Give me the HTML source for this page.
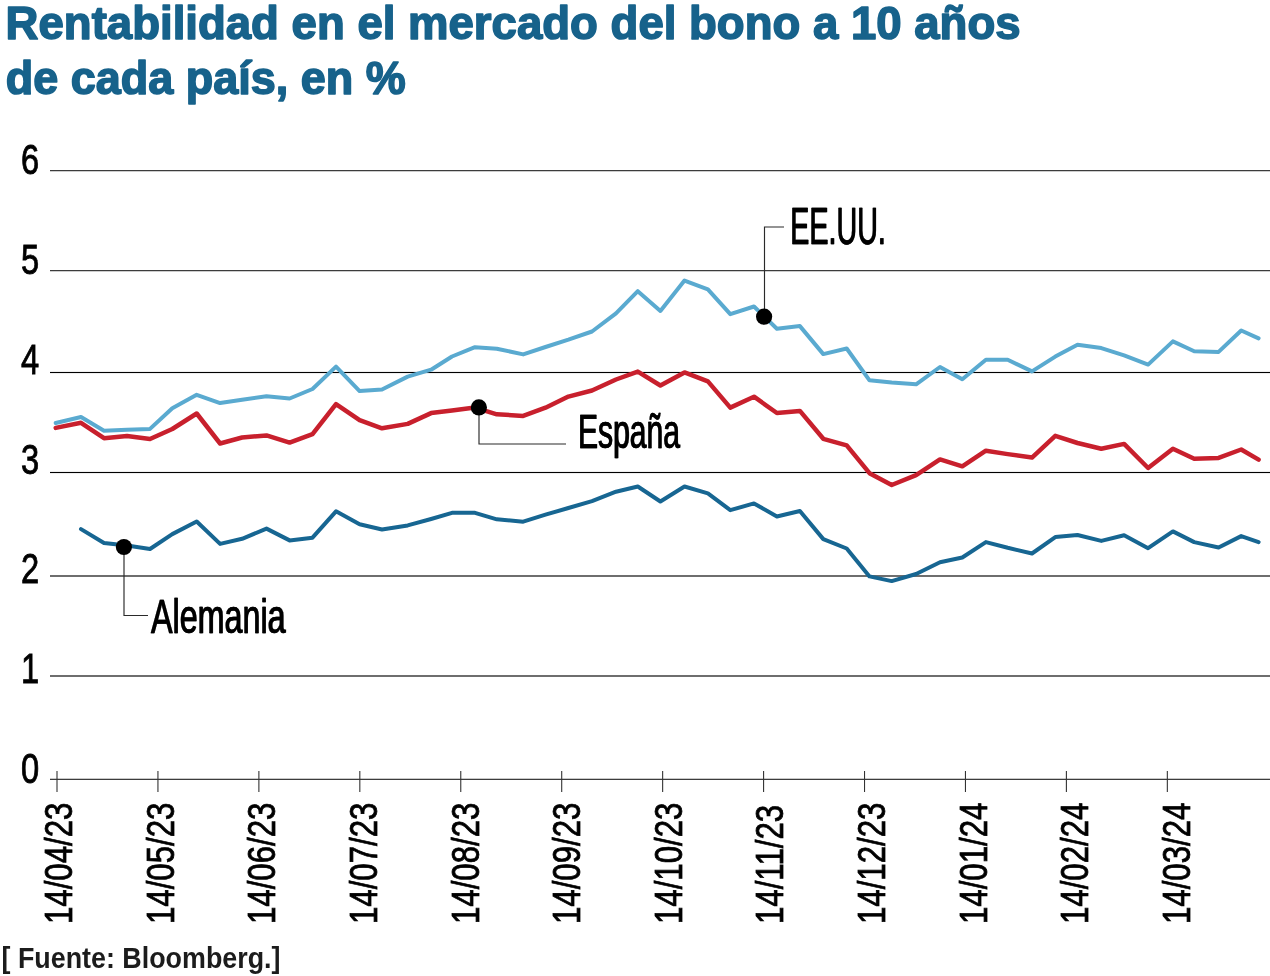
<!DOCTYPE html>
<html><head><meta charset="utf-8"><style>
html,body{margin:0;padding:0;background:#fff;width:1270px;height:976px;overflow:hidden}
svg{display:block;will-change:transform}
</style></head><body>
<svg width="1270" height="976" viewBox="0 0 1270 976">
<text x="5.6" y="39.1" font-family='"Liberation Sans", sans-serif' font-weight="bold" font-size="47" fill="#17628b" stroke="#17628b" stroke-width="1.6" stroke-linejoin="round" textLength="1015" lengthAdjust="spacingAndGlyphs">Rentabilidad en el mercado del bono a 10 años</text>
<text x="5.8" y="94.3" font-family='"Liberation Sans", sans-serif' font-weight="bold" font-size="47" fill="#17628b" stroke="#17628b" stroke-width="1.6" stroke-linejoin="round" textLength="400" lengthAdjust="spacingAndGlyphs">de cada país, en %</text>
<rect x="50" y="170" width="1220" height="1" fill="#3c3c3c" shape-rendering="crispEdges"/>
<rect x="50" y="171" width="1220" height="1" fill="#cccccc" shape-rendering="crispEdges"/>
<rect x="50" y="270" width="1220" height="1" fill="#3c3c3c" shape-rendering="crispEdges"/>
<rect x="50" y="271" width="1220" height="1" fill="#cccccc" shape-rendering="crispEdges"/>
<rect x="50" y="372" width="1220" height="1" fill="#000000" shape-rendering="crispEdges"/>
<rect x="50" y="371" width="1220" height="1" fill="#eeeeee" shape-rendering="crispEdges"/>
<rect x="50" y="373" width="1220" height="1" fill="#eeeeee" shape-rendering="crispEdges"/>
<rect x="50" y="472" width="1220" height="1" fill="#000000" shape-rendering="crispEdges"/>
<rect x="50" y="471" width="1220" height="1" fill="#eeeeee" shape-rendering="crispEdges"/>
<rect x="50" y="473" width="1220" height="1" fill="#eeeeee" shape-rendering="crispEdges"/>
<rect x="50" y="575" width="1220" height="1" fill="#6e6e6e" shape-rendering="crispEdges"/>
<rect x="50" y="576" width="1220" height="1" fill="#6e6e6e" shape-rendering="crispEdges"/>
<rect x="50" y="675" width="1220" height="1" fill="#6e6e6e" shape-rendering="crispEdges"/>
<rect x="50" y="676" width="1220" height="1" fill="#6e6e6e" shape-rendering="crispEdges"/>
<rect x="50" y="778" width="1220" height="1" fill="#c8c8c8" shape-rendering="crispEdges"/>
<rect x="50" y="779" width="1220" height="1" fill="#3c3c3c" shape-rendering="crispEdges"/>
<text transform="translate(21,174.0) scale(0.76,1)" font-family='"Liberation Sans", sans-serif' font-size="43" fill="#000" stroke="#000" stroke-width="0.9">6</text>
<text transform="translate(21,274.0) scale(0.76,1)" font-family='"Liberation Sans", sans-serif' font-size="43" fill="#000" stroke="#000" stroke-width="0.9">5</text>
<text transform="translate(21,373.5) scale(0.76,1)" font-family='"Liberation Sans", sans-serif' font-size="43" fill="#000" stroke="#000" stroke-width="0.9">4</text>
<text transform="translate(21,474.0) scale(0.76,1)" font-family='"Liberation Sans", sans-serif' font-size="43" fill="#000" stroke="#000" stroke-width="0.9">3</text>
<text transform="translate(21,582.5) scale(0.76,1)" font-family='"Liberation Sans", sans-serif' font-size="43" fill="#000" stroke="#000" stroke-width="0.9">2</text>
<text transform="translate(21,682.5) scale(0.76,1)" font-family='"Liberation Sans", sans-serif' font-size="43" fill="#000" stroke="#000" stroke-width="0.9">1</text>
<text transform="translate(21,783.0) scale(0.76,1)" font-family='"Liberation Sans", sans-serif' font-size="43" fill="#000" stroke="#000" stroke-width="0.9">0</text>
<line x1="57.00" x2="57.00" y1="771" y2="792" stroke="#333" stroke-width="1.1"/>
<text transform="translate(72.0,924) rotate(-90) scale(0.80,1)" font-family='"Liberation Sans", sans-serif' font-size="39" fill="#000" stroke="#000" stroke-width="0.8">14/04/23</text>
<line x1="157.94" x2="157.94" y1="771" y2="792" stroke="#333" stroke-width="1.1"/>
<text transform="translate(173.6,924) rotate(-90) scale(0.80,1)" font-family='"Liberation Sans", sans-serif' font-size="39" fill="#000" stroke="#000" stroke-width="0.8">14/05/23</text>
<line x1="258.88" x2="258.88" y1="771" y2="792" stroke="#333" stroke-width="1.1"/>
<text transform="translate(275.3,924) rotate(-90) scale(0.80,1)" font-family='"Liberation Sans", sans-serif' font-size="39" fill="#000" stroke="#000" stroke-width="0.8">14/06/23</text>
<line x1="359.82" x2="359.82" y1="771" y2="792" stroke="#333" stroke-width="1.1"/>
<text transform="translate(376.9,924) rotate(-90) scale(0.80,1)" font-family='"Liberation Sans", sans-serif' font-size="39" fill="#000" stroke="#000" stroke-width="0.8">14/07/23</text>
<line x1="460.76" x2="460.76" y1="771" y2="792" stroke="#333" stroke-width="1.1"/>
<text transform="translate(478.5,924) rotate(-90) scale(0.80,1)" font-family='"Liberation Sans", sans-serif' font-size="39" fill="#000" stroke="#000" stroke-width="0.8">14/08/23</text>
<line x1="561.70" x2="561.70" y1="771" y2="792" stroke="#333" stroke-width="1.1"/>
<text transform="translate(580.1,924) rotate(-90) scale(0.80,1)" font-family='"Liberation Sans", sans-serif' font-size="39" fill="#000" stroke="#000" stroke-width="0.8">14/09/23</text>
<line x1="662.64" x2="662.64" y1="771" y2="792" stroke="#333" stroke-width="1.1"/>
<text transform="translate(681.8,924) rotate(-90) scale(0.80,1)" font-family='"Liberation Sans", sans-serif' font-size="39" fill="#000" stroke="#000" stroke-width="0.8">14/10/23</text>
<line x1="763.58" x2="763.58" y1="771" y2="792" stroke="#333" stroke-width="1.1"/>
<text transform="translate(783.4,924) rotate(-90) scale(0.80,1)" font-family='"Liberation Sans", sans-serif' font-size="39" fill="#000" stroke="#000" stroke-width="0.8">14/11/23</text>
<line x1="864.52" x2="864.52" y1="771" y2="792" stroke="#333" stroke-width="1.1"/>
<text transform="translate(885.0,924) rotate(-90) scale(0.80,1)" font-family='"Liberation Sans", sans-serif' font-size="39" fill="#000" stroke="#000" stroke-width="0.8">14/12/23</text>
<line x1="965.46" x2="965.46" y1="771" y2="792" stroke="#333" stroke-width="1.1"/>
<text transform="translate(986.7,924) rotate(-90) scale(0.80,1)" font-family='"Liberation Sans", sans-serif' font-size="39" fill="#000" stroke="#000" stroke-width="0.8">14/01/24</text>
<line x1="1066.40" x2="1066.40" y1="771" y2="792" stroke="#333" stroke-width="1.1"/>
<text transform="translate(1088.3,924) rotate(-90) scale(0.80,1)" font-family='"Liberation Sans", sans-serif' font-size="39" fill="#000" stroke="#000" stroke-width="0.8">14/02/24</text>
<line x1="1167.34" x2="1167.34" y1="771" y2="792" stroke="#333" stroke-width="1.1"/>
<text transform="translate(1189.9,924) rotate(-90) scale(0.80,1)" font-family='"Liberation Sans", sans-serif' font-size="39" fill="#000" stroke="#000" stroke-width="0.8">14/03/24</text>
<polyline points="55.7,423.0 81.0,417.0 104.0,430.8 127.0,429.8 150.0,428.9 172.3,408.2 196.7,394.8 220.1,403.1 242.1,399.7 266.5,396.3 289.6,398.5 312.5,389.0 336.0,366.6 359.6,391.1 382.0,389.5 407.7,376.6 431.1,369.7 452.0,356.5 475.0,347.2 496.8,348.7 523.2,354.4 545.5,347.0 568.4,339.7 592.0,331.5 616.0,313.4 637.8,291.2 660.4,310.9 684.5,280.6 707.9,289.3 730.3,314.2 754.0,306.5 776.9,328.7 799.9,326.1 823.3,354.1 846.7,348.5 869.5,380.3 891.7,382.5 916.1,384.3 940.0,367.0 962.3,379.2 985.9,359.7 1007.7,359.7 1032.0,371.4 1055.3,356.6 1077.5,344.7 1101.3,348.1 1124.1,355.4 1148.1,364.6 1172.9,341.4 1194.2,351.3 1218.6,351.9 1241.2,330.5 1258.6,338.3" fill="none" stroke="#5aaad0" stroke-width="4" stroke-linejoin="round" stroke-linecap="round"/>
<polyline points="55.7,427.9 81.0,422.8 104.0,438.2 127.0,436.1 150.0,439.0 172.3,429.0 196.7,413.5 220.1,443.5 242.1,437.5 266.5,435.4 289.6,442.6 312.5,434.1 336.0,404.1 359.6,420.1 382.0,428.3 407.7,423.9 431.1,413.1 452.0,410.5 475.0,407.6 496.8,414.3 523.2,415.9 545.5,407.7 568.4,396.6 592.0,390.5 616.0,379.5 637.8,371.6 660.4,385.5 684.5,372.4 707.9,381.4 730.3,407.6 754.0,396.7 776.9,413.0 799.9,410.9 823.3,438.8 846.7,445.3 869.5,473.2 891.7,485.0 916.1,475.2 940.0,459.4 962.3,466.3 985.9,450.7 1007.7,454.1 1032.0,457.6 1055.3,435.8 1077.5,443.0 1101.3,448.8 1124.1,443.9 1148.1,468.0 1172.9,448.8 1194.2,458.7 1218.6,457.9 1241.2,449.5 1258.6,459.6" fill="none" stroke="#c8202d" stroke-width="4.5" stroke-linejoin="round" stroke-linecap="round"/>
<polyline points="81.0,529.1 104.0,543.0 127.0,545.5 150.0,549.0 172.3,534.1 196.7,521.5 220.1,543.9 242.1,538.8 266.5,528.6 289.6,540.4 312.5,537.7 336.0,511.3 359.6,524.3 382.0,529.5 407.7,525.4 431.1,519.0 452.0,512.8 475.0,512.8 496.8,519.3 523.2,521.7 545.5,514.7 568.4,508.0 592.0,501.2 616.0,491.7 637.8,486.5 660.4,501.5 684.5,486.5 707.9,493.3 730.3,510.2 754.0,503.4 776.9,516.5 799.9,511.0 823.3,539.1 846.7,548.5 869.5,576.4 891.7,581.1 916.1,574.0 940.0,562.2 962.3,557.5 985.9,542.1 1007.7,547.8 1032.0,553.5 1055.3,537.1 1077.5,535.0 1101.3,540.9 1124.1,535.2 1148.1,548.2 1172.9,531.4 1194.2,542.1 1218.6,547.5 1241.2,536.1 1258.6,542.1" fill="none" stroke="#176692" stroke-width="4" stroke-linejoin="round" stroke-linecap="round"/>
<polyline points="764.5,316.7 764.5,227 784,227" stroke="#2a2a2a" stroke-width="1.15" fill="none"/>
<polyline points="479,407.4 479,444 566,444" stroke="#2a2a2a" stroke-width="1.15" fill="none"/>
<polyline points="124,547 124,615.5 148,615.5" stroke="#2a2a2a" stroke-width="1.15" fill="none"/>
<circle cx="764.1" cy="316.7" r="8.1" fill="#000"/>
<circle cx="478.9" cy="407.4" r="8.1" fill="#000"/>
<circle cx="123.9" cy="547.0" r="8.1" fill="#000"/>
<text transform="translate(790.00,243.7) scale(0.562,1)" font-family='"Liberation Sans", sans-serif' font-size="51" fill="#000" stroke="#000" stroke-width="0.5">EE.UU.</text>
<text transform="translate(790.60,243.7) scale(0.562,1)" font-family='"Liberation Sans", sans-serif' font-size="51" fill="#000" stroke="#000" stroke-width="0.5">EE.UU.</text>
<text transform="translate(577.70,448.0) scale(0.614,1)" font-family='"Liberation Sans", sans-serif' font-size="49" fill="#000" stroke="#000" stroke-width="0.5">España</text>
<text transform="translate(578.30,448.0) scale(0.614,1)" font-family='"Liberation Sans", sans-serif' font-size="49" fill="#000" stroke="#000" stroke-width="0.5">España</text>
<text transform="translate(150.70,632.6) scale(0.659,1)" font-family='"Liberation Sans", sans-serif' font-size="49" fill="#000" stroke="#000" stroke-width="0.5">Alemania</text>
<text transform="translate(151.30,632.6) scale(0.659,1)" font-family='"Liberation Sans", sans-serif' font-size="49" fill="#000" stroke="#000" stroke-width="0.5">Alemania</text>
<text x="1.5" y="967.8" font-family='"Liberation Sans", sans-serif' font-weight="bold" font-size="29" fill="#1c1c1c" textLength="279" lengthAdjust="spacingAndGlyphs">[ Fuente: Bloomberg.]</text>
</svg>
</body></html>
